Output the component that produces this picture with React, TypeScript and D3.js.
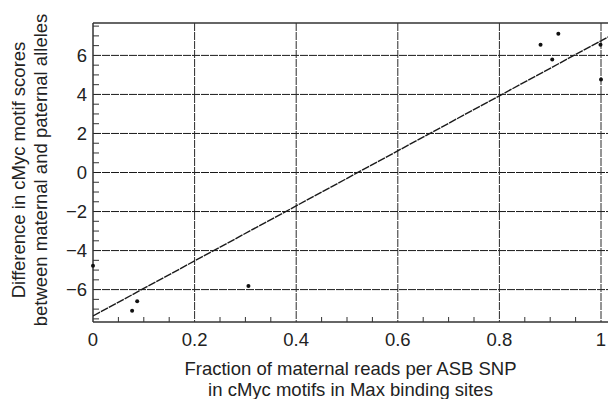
import React from "react";
import * as d3 from "d3";

const xValues = [0, 0.077, 0.087, 0.306, 0.881, 0.904, 0.916, 0.999, 1.0];
const yValues = [-4.78, -7.08, -6.6, -5.81, 6.55, 5.79, 7.11, 6.55, 4.77];
const fitIntercept = -7.35;
const fitSlope = 14.1;
const xTicks = [0, 0.2, 0.4, 0.6, 0.8, 1];
const xTickLabels = ["0", "0.2", "0.4", "0.6", "0.8", "1"];
const yTicks = [-6, -4, -2, 0, 2, 4, 6];
const yTickLabels = ["−6", "−4", "−2", "0", "2", "4", "6"];
const yLabelLines = ["Difference in cMyc motif scores", "between maternal and paternal alleles"];
const xLabelLines = ["Fraction of maternal reads per ASB SNP", "in cMyc motifs in Max binding sites"];

const W = 608;
const H = 399;
const left = 93;
const top = 23;
const bottom = 322;

export default function App() {
  const x = d3.scaleLinear().domain([0, 1]).range([left, 601]);
  const xMax = x.invert(W);
  const y = d3.scaleLinear().domain([-7.66, 7.66]).range([bottom, top]);
  const minorX = d3.range(0, xMax, 0.05).filter((v) => Math.abs(v * 5 - Math.round(v * 5)) > 1e-6);
  const minorY = d3.range(-7.5, 7.6, 0.5).filter((v) => Math.abs(v / 2 - Math.round(v / 2)) > 1e-6);
  const line = d3.line<number>().x((v) => x(v)).y((v) => y(fitIntercept + fitSlope * v));
  const font = "'Liberation Sans', Arial, Helvetica, sans-serif";
  const txt = "#222";
  const fs = 18.5;
  return (
    <svg width={W} height={H} style={{ position: "absolute", left: 0, top: 0, background: "#fff" }} fontFamily={font}>
      <defs>
        <clipPath id="plot">
          <rect x={left} y={top} width={W - left} height={bottom - top} />
        </clipPath>
      </defs>
      {yTicks.map((t) => (
        <line key={"gy" + t} x1={left} x2={W} y1={y(t)} y2={y(t)} stroke="#1a1a1a" strokeWidth={1} strokeDasharray="8,1" />
      ))}
      {xTicks.slice(1).map((t) => (
        <line key={"gx" + t} x1={x(t)} x2={x(t)} y1={top} y2={bottom} stroke="#2a2a2a" strokeWidth={1} strokeDasharray="8,1" />
      ))}
      {minorY.map((t) => (
        <line key={"my" + t} x1={left} x2={left + 6} y1={y(t)} y2={y(t)} stroke="#333" strokeWidth={1} />
      ))}
      {minorX.map((t) => (
        <line key={"mx" + t} x1={x(t)} x2={x(t)} y1={bottom} y2={bottom - 5} stroke="#333" strokeWidth={1} />
      ))}
      <line x1={left} x2={W} y1={top} y2={top} stroke="#333" strokeWidth={1.5} />
      <line x1={left} x2={W} y1={bottom} y2={bottom} stroke="#333" strokeWidth={1.5} />
      <line x1={left} x2={left} y1={top} y2={bottom} stroke="#333" strokeWidth={1.5} />
      <g clipPath="url(#plot)">
        <path d={line([0, xMax]) || ""} fill="none" stroke="#1a1a1a" strokeWidth={1.4} strokeDasharray="8,1" />
      </g>
      {xValues.map((v, i) => (
        <circle key={"p" + i} cx={x(v)} cy={y(yValues[i])} r={2} fill="#111" />
      ))}
      {yTicks.map((t, i) => (
        <text key={"ty" + t} x={87} y={y(t)} dy="0.35em" textAnchor="end" fontSize={fs} fill={txt}>
          {yTickLabels[i]}
        </text>
      ))}
      {xTicks.map((t, i) => (
        <text key={"tx" + t} x={x(t)} y={345.5} textAnchor="middle" fontSize={fs} fill={txt}>
          {xTickLabels[i]}
        </text>
      ))}
      {xLabelLines.map((s, i) => (
        <text key={"xl" + i} x={350.5} y={375 + i * 21} textAnchor="middle" fontSize={fs} fill={txt}>
          {s}
        </text>
      ))}
      {yLabelLines.map((s, i) => (
        <text key={"yl" + i} transform={`translate(${25 + i * 21.7},170) rotate(-90)`} textAnchor="middle" fontSize={fs} fill={txt}>
          {s}
        </text>
      ))}
    </svg>
  );
}
